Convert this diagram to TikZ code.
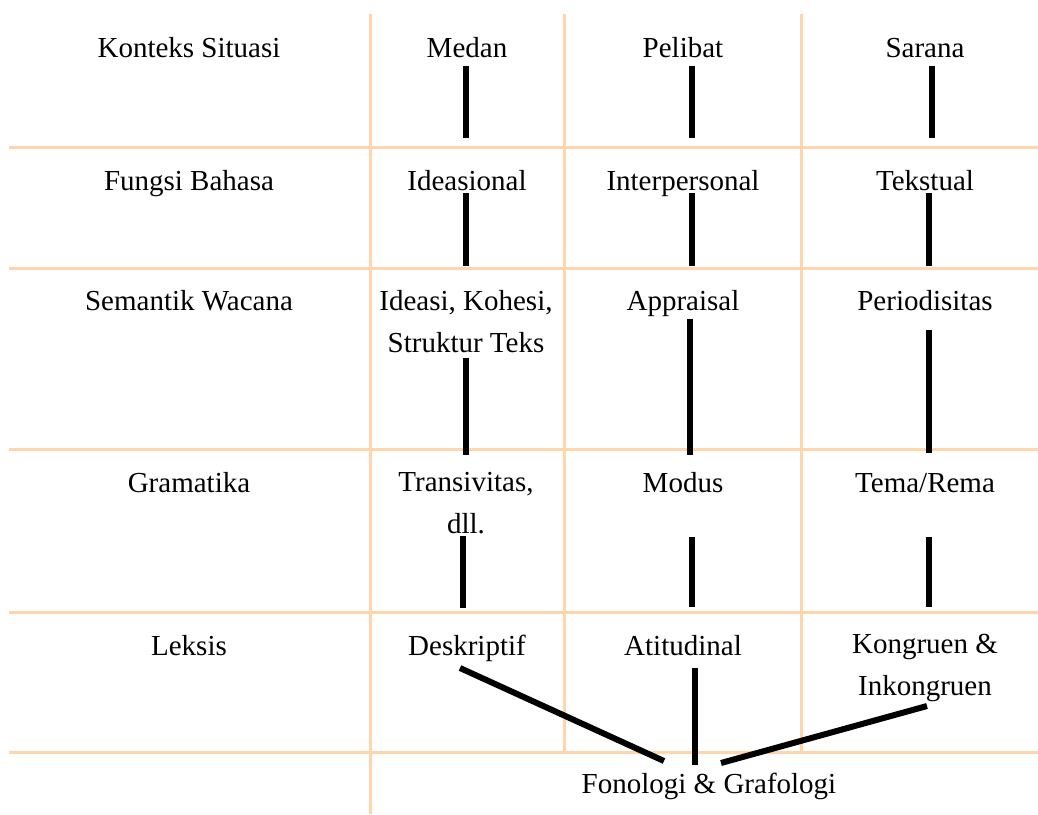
\documentclass[tikz,border=0pt]{standalone}
\usepackage{fontspec}
\setmainfont{Liberation Serif}
\definecolor{peach}{RGB}{255,214,172}
\begin{document}
\begin{tikzpicture}[x=1pt,y=-1pt,
  txt/.style={anchor=base, inner sep=0pt, font=\fontsize{29}{41.5}\selectfont, align=center},
  gridline/.style={draw=peach, line width=3pt},
  bar/.style={draw=black, line width=6pt}]
\useasboundingbox (0,0) rectangle (1038,814);
% grid
\foreach \yy in {147,268,449,612,752} \draw[gridline] (9,\yy) -- (1038,\yy);
\draw[gridline] (370,14) -- (370,814);
\draw[gridline] (564,14) -- (564,752);
\draw[gridline] (801,14) -- (801,752);
% texts
\node[txt] (ks) at (189,57) {Konteks Situasi};
\node[txt] (medan) at (467,57) {Medan};
\node[txt] (pelibat) at (683,57) {Pelibat};
\node[txt] (sarana) at (925,57) {Sarana};
\node[txt] (fb) at (189,190) {Fungsi Bahasa};
\node[txt] (idea) at (467,190) {Ideasional};
\node[txt] (inter) at (683,190) {Interpersonal};
\node[txt] (tekst) at (925,190) {Tekstual};
\node[txt] (sw) at (189,310) {Semantik Wacana};
\node[txt] (ideasi) at (466,352) {Ideasi, Kohesi,\\Struktur Teks};
\node[txt] (appr) at (683,310) {Appraisal};
\node[txt] (period) at (925,310) {Periodisitas};
\node[txt] (gram) at (189,492) {Gramatika};
\node[txt] (trans) at (466,533) {Transivitas,\\dll.};
\node[txt] (modus) at (683,492) {Modus};
\node[txt] (tema) at (925,492) {Tema/Rema};
\node[txt] (leksis) at (189,655) {Leksis};
\node[txt] (desk) at (467,655) {Deskriptif};
\node[txt] (atit) at (683,655) {Atitudinal};
\node[txt] (kong) at (925,695) {Kongruen \&\\Inkongruen};
\node[txt] (fon) at (709,793) {Fonologi \& Grafologi};
% bars
\draw[bar] (466,66) -- (466,138);
\draw[bar] (692,66) -- (692,138);
\draw[bar] (932,66) -- (932,138);
\draw[bar] (466,193) -- (466,266);
\draw[bar] (692,193) -- (692,266);
\draw[bar] (929,193) -- (929,266);
\draw[bar] (466,358) -- (466,455);
\draw[bar] (690,319) -- (690,455);
\draw[bar] (929,330) -- (929,453);
\draw[bar] (463,536) -- (463,608);
\draw[bar] (692,537) -- (692,607);
\draw[bar] (929,537) -- (929,607);
\draw[bar] (460,668) -- (664,761);
\draw[bar] (695,668) -- (695,765);
\draw[bar] (927,706) -- (721,763);
\end{tikzpicture}
\end{document}
